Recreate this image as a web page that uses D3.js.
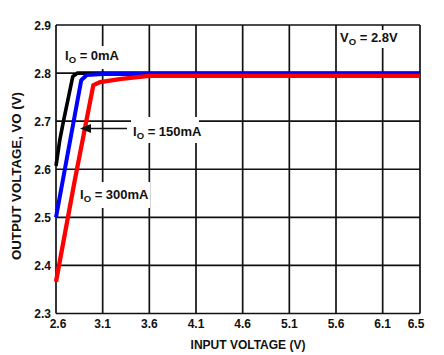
<!DOCTYPE html>
<html><head><meta charset="utf-8">
<script src="https://cdn.jsdelivr.net/npm/d3@7"></script>
<style>body{margin:0;background:#fff}svg{display:block}text{font-family:"Liberation Sans",Arial,sans-serif;font-weight:bold;fill:#111}</style>
</head><body>
<script>
// ---- data ----
const xTicks = [2.6, 3.1, 3.6, 4.1, 4.6, 5.1, 5.6, 6.1, 6.5];
const yTicks = [2.3, 2.4, 2.5, 2.6, 2.7, 2.8, 2.9];
const vin0   = [2.6,   2.64, 2.68, 2.78,  2.83, 6.5];
const vout0  = [2.607, 2.66, 2.70, 2.793, 2.8,  2.8];
const vin150  = [2.6, 2.87,  2.93,  3.1,   6.5];
const vout150 = [2.5, 2.785, 2.796, 2.798, 2.798];
const vin300  = [2.6,   2.80,  3.0,   3.07,  3.3,   3.6,   6.5];
const vout300 = [2.366, 2.576, 2.775, 2.781, 2.788, 2.794, 2.794];

const W = 444, H = 355;
const svg = d3.select("body").append("svg").attr("width", W).attr("height", H);
const x = d3.scaleLinear().domain([2.6, 6.5]).range([56, 420]);
const y = d3.scaleLinear().domain([2.3, 2.9]).range([313.5, 25]);

// grid
const g = svg.append("g");
g.selectAll(".vg").data(xTicks).join("line")
  .attr("x1", d => x(d)).attr("x2", d => x(d)).attr("y1", y(2.9)).attr("y2", y(2.3))
  .attr("stroke", "#111").attr("stroke-width", 1.7);
g.selectAll(".hg").data(yTicks).join("line")
  .attr("x1", x(2.6)).attr("x2", x(6.5)).attr("y1", d => y(d)).attr("y2", d => y(d))
  .attr("stroke", "#111").attr("stroke-width", 1.7);

// tick labels
svg.selectAll(".yt").data(yTicks).join("text")
  .attr("x", 51).attr("y", d => y(d) + 4.5).attr("text-anchor", "end")
  .attr("font-size", 12).text(d => d.toFixed(1));
svg.selectAll(".xt").data(xTicks).join("text")
  .attr("x", (d, i) => x(d) + (i === 0 ? 2 : i === xTicks.length - 1 ? -4 : 0))
  .attr("y", 328).attr("text-anchor", "middle")
  .attr("font-size", 12).text(d => d.toFixed(1));

// axis titles
svg.append("text").attr("x", 248).attr("y", 349).attr("text-anchor", "middle")
  .attr("font-size", 12).text("INPUT VOLTAGE (V)");
svg.append("text").attr("transform", "translate(21,176) rotate(-90)")
  .attr("text-anchor", "middle").attr("font-size", 12.5)
  .attr("textLength", 168).attr("lengthAdjust", "spacingAndGlyphs")
  .text("OUTPUT VOLTAGE, VO (V)");

// annotation backgrounds (white boxes)
const boxes = [[63, 46, 58, 23], [131, 117, 68, 26], [78, 182, 72, 26], [340, 30, 67, 18]];
svg.selectAll(".bx").data(boxes).join("rect")
  .attr("x", d => d[0]).attr("y", d => d[1]).attr("width", d => d[2]).attr("height", d => d[3])
  .attr("fill", "#fff");

// curves
const line = d3.line().x(d => x(d[0])).y(d => y(d[1]));
const series = [
  {xs: vin0, ys: vout0, c: "#000", w: 3.6},
  {xs: vin150, ys: vout150, c: "#0000ff", w: 4},
  {xs: vin300, ys: vout300, c: "#ff0000", w: 4.3}
];
series.forEach(s => {
  svg.append("path").datum(s.xs.map((v, i) => [v, s.ys[i]]))
    .attr("d", line).attr("fill", "none").attr("stroke", s.c)
    .attr("stroke-width", s.w).attr("stroke-linejoin", "round");
});

// labels
function label(px, py, sym, rest) {
  const t = svg.append("text").attr("x", px).attr("y", py).attr("font-size", 13);
  t.append("tspan").text(sym);
  t.append("tspan").attr("font-size", 9.5).attr("dy", 3).text("O");
  t.append("tspan").attr("dy", -3).text(rest);
}
label(65, 60, "I", " = 0mA");
label(133, 136, "I", " = 150mA");
label(80, 199, "I", " = 300mA");
label(340, 42, "V", " = 2.8V");

// arrow
svg.append("line").attr("x1", 127).attr("x2", 88).attr("y1", 128.5).attr("y2", 128.5)
  .attr("stroke", "#111").attr("stroke-width", 1.5);
svg.append("path").attr("d", `M80,128.5 L91,124 L91,133 Z`).attr("fill", "#111");
</script>
</body></html>
